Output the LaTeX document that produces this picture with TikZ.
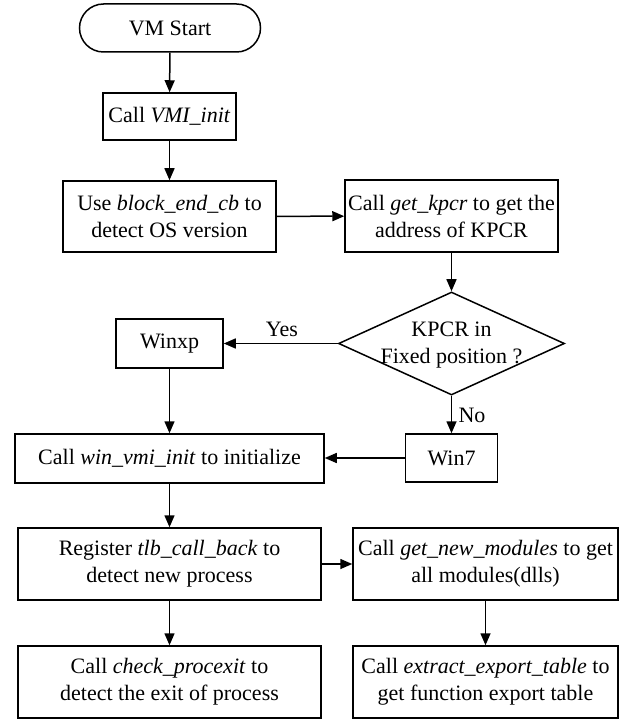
\documentclass[tikz,border=0pt]{standalone}
\usepackage{fontspec}
\setmainfont{Liberation Serif}
\usetikzlibrary{shapes.geometric,arrows.meta}
\begin{document}
\begin{tikzpicture}[x=1pt,y=-1pt,
  every node/.style={font=\fontsize{22}{27}\selectfont},
  box/.style={draw,line width=1.5pt,align=center,inner sep=0pt},
  term/.style={box,rounded corners=24pt},
  decision/.style={draw,line width=1.5pt,diamond,inner sep=0pt},
  flow/.style={line width=1.5pt,-{Triangle[length=12pt,width=10pt]}},
  lbl/.style={inner sep=0pt,anchor=base}]
\useasboundingbox (0,0) rectangle (629,719);

% nodes of the flowchart
\node[term,minimum width=181pt,minimum height=48pt] (start) at (170,28) {VM Start};
\node[box,minimum width=133pt,minimum height=47pt] (vmi) at (169.5,116.5) {Call \textit{VMI\_init}};
\node[box,minimum width=213pt,minimum height=71pt] (osv) at (169.5,216.5) {Use \textit{block\_end\_cb} to\\detect OS version};
\node[box,minimum width=213pt,minimum height=72pt] (kpcr) at (451.5,216) {Call \textit{get\_kpcr} to get the\\address of KPCR};
\node[decision,minimum width=226pt,minimum height=103pt] (dec) at (451.5,343.5) {};
\node[inner sep=0pt,align=center] (dectext) at (451.5,345) {KPCR in\\Fixed position ?};
\node[box,minimum width=107pt,minimum height=49pt] (winxp) at (169.5,343.5) {Winxp};
\node[box,minimum width=92pt,minimum height=48pt] (win7) at (451.5,458) {Win7};
\node[box,minimum width=309pt,minimum height=49pt] (winit) at (169.5,458.5) {Call \textit{win\_vmi\_init} to initialize};
\node[box,minimum width=303pt,minimum height=72pt] (reg) at (169.5,564) {Register \textit{tlb\_call\_back} to\\detect new process};
\node[box,minimum width=265pt,minimum height=72pt] (mods) at (485.5,564) {Call \textit{get\_new\_modules} to get\\all modules(dlls)};
\node[box,minimum width=303pt,minimum height=72pt] (chk) at (169.5,682) {Call \textit{check\_procexit} to\\detect the exit of process};
\node[box,minimum width=265pt,minimum height=72pt] (exp) at (485.5,682) {Call \textit{extract\_export\_table} to\\get function export table};

% connectors
\draw[flow] (start) -- (vmi);
\draw[flow] (vmi) -- (osv);
\draw[flow] (osv) -- (kpcr);
\draw[flow] (kpcr) -- (dec);
\draw[flow] (dec.west) -- (winxp.east);
\draw[flow] (dec.south) -- (win7.north);
\draw[flow] (winxp) -- (winit);
\draw[flow] (win7.west) -- (winit.east |- win7.west);
\draw[flow] (winit) -- (reg);
\draw[flow] (reg) -- (mods);
\draw[flow] (reg) -- (chk);
\draw[flow] (mods) -- (exp);

% branch labels
\node[lbl] (yes) at (282,336) {Yes};
\node[lbl] (no) at (472,422) {No};
\end{tikzpicture}
\end{document}
